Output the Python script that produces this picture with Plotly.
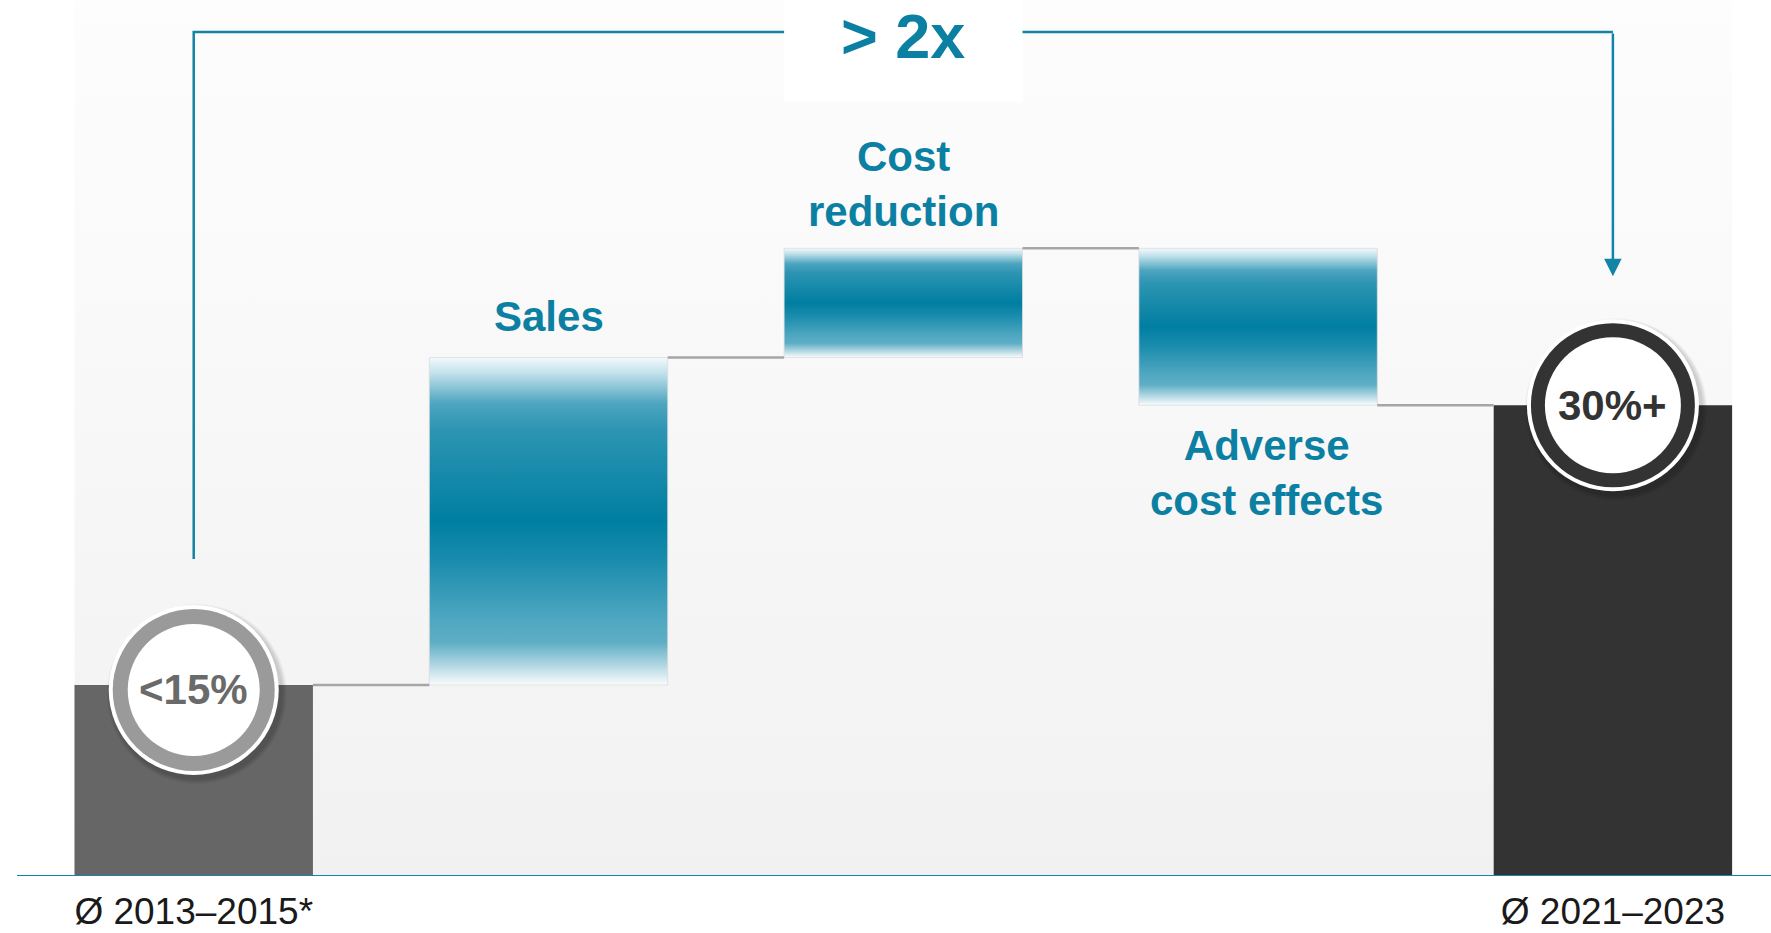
import plotly.graph_objects as go

# ---- data -------------------------------------------------------------
categories = ["Ø 2013–2015*", "Sales", "Cost reduction", "Adverse cost effects", "Ø 2021–2023"]
tick_labels = ["Ø 2013–2015*", "", "", "", "Ø 2021–2023"]
start_margin = 14.0          # shown as "<15%"
step_deltas = [24.0, 8.0, -11.5]   # Sales, Cost reduction, Adverse cost effects
end_margin = 34.5            # shown as "30%+"
circle_labels = ["<15%", "30%+"]
step_labels = ["Sales", "Cost<br>reduction", "Adverse<br>cost effects"]
headline = "> 2x"

# ---- geometry / style ---------------------------------------------------
W, H = 1771, 933
MARGIN_B = 57
PLOT_H = H - MARGIN_B
Y_MAX = 64.2
PX_PER_UNIT = PLOT_H / Y_MAX
X_RANGE = [-0.546, 4.4456]
BAR_W = 0.672

BLUE = "#0b80a2"
LINE_BLUE = "#1284a6"
CONNECTOR = "#a6a6a6"
START_GREY = "#666666"
END_GREY = "#333333"


def px(p):
    """pixel distance -> y-axis units"""
    return p / PX_PER_UNIT


def rect_xy(xc, y0, y1):
    x0, x1 = xc - BAR_W / 2, xc + BAR_W / 2
    return [x0, x1, x1, x0, x0], [y0, y0, y1, y1, y0]


# colour ramp of the step bars, listed from top edge to bottom edge
step_ramp_top_down = [
    (0.00, "#f2fafc"),
    (0.05, "#bfe0ea"),
    (0.14, "#4ea5c0"),
    (0.22, "#2d95b3"),
    (0.50, "#007ea1"),
    (0.62, "#1a8cad"),
    (0.80, "#4fa7c1"),
    (0.87, "#5eaec5"),
    (0.95, "#bddde7"),
    (1.00, "#f9fcfd"),
]
step_colorscale = [[round(1 - p, 4), c] for p, c in reversed(step_ramp_top_down)]

fig = go.Figure()

# light background panel spanning the five columns
panel_x = [0 - BAR_W / 2, 4 + BAR_W / 2, 4 + BAR_W / 2, 0 - BAR_W / 2, 0 - BAR_W / 2]
panel_y = [0, 0, Y_MAX, Y_MAX, 0]
fig.add_trace(go.Scatter(
    x=panel_x, y=panel_y, mode="lines", fill="toself", line=dict(width=0),
    fillgradient=dict(type="vertical", start=0, stop=Y_MAX,
                      colorscale=[[0, "#f1f1f1"], [0.55, "#f8f8f8"], [1, "#fdfdfd"]]),
    hoverinfo="skip", showlegend=False))

# starting and ending margin bars
for i, (val, col) in enumerate([(start_margin, START_GREY), (end_margin, END_GREY)]):
    xc = 0 if i == 0 else 4
    xs, ys = rect_xy(xc, 0, val)
    fig.add_trace(go.Scatter(x=xs, y=ys, mode="lines", fill="toself", fillcolor=col,
                             line=dict(width=0), hoverinfo="skip", showlegend=False))

# waterfall steps
levels = [start_margin]
for d in step_deltas:
    levels.append(levels[-1] + d)

for j, d in enumerate(step_deltas):
    xc = j + 1
    lo, hi = sorted([levels[j], levels[j + 1]])
    xs, ys = rect_xy(xc, lo, hi)
    fig.add_trace(go.Scatter(
        x=xs, y=ys, mode="lines", fill="toself",
        line=dict(width=1, color="rgba(220,220,220,0.8)"),
        fillgradient=dict(type="vertical", start=lo, stop=hi, colorscale=step_colorscale),
        hoverinfo="skip", showlegend=False))

# connectors between consecutive columns
all_levels = levels + [end_margin]
for i in range(4):
    fig.add_trace(go.Scatter(
        x=[i + BAR_W / 2, i + 1 - BAR_W / 2], y=[all_levels[i], all_levels[i]],
        mode="lines", line=dict(color=CONNECTOR, width=2.5),
        hoverinfo="skip", showlegend=False))

# bracket from start to end
bracket_y = Y_MAX - px(32)
left_foot = start_margin + px(126)
arrow_tip = end_margin + px(129)
fig.add_trace(go.Scatter(
    x=[0, 0, 4, 4], y=[left_foot, bracket_y, bracket_y, bracket_y],
    mode="lines", line=dict(color=LINE_BLUE, width=2.5),
    hoverinfo="skip", showlegend=False))

shapes = []
# white label box over the bracket
shapes.append(dict(type="rect", xref="x", yref="y", x0=2 - BAR_W / 2, x1=2 + BAR_W / 2,
                   y0=Y_MAX - px(102), y1=Y_MAX, fillcolor="white", line=dict(width=0),
                   layer="above"))
# base line
shapes.append(dict(type="line", xref="paper", yref="y", x0=17 / W, x1=1, y0=0, y1=0,
                   line=dict(color=LINE_BLUE, width=2), layer="above"))

# badges on the two margin bars
badges = [
    (0, start_margin, -5, "#9a9a9a", 85, 81, 66),
    (4, end_margin, 0, END_GREY, 86, 82, 68),
]
for xa, ya, dy, ring, r_out, r_ring, r_in in badges:
    for k in range(5):
        rr = r_out + 1 + k
        shapes.append(dict(type="circle", xref="x", yref="y", xsizemode="pixel", ysizemode="pixel",
                           xanchor=xa, yanchor=ya, x0=-rr + 3, x1=rr + 3,
                           y0=dy - rr - 4, y1=dy + rr - 4,
                           fillcolor="rgba(0,0,0,0.035)", line=dict(width=0), layer="above"))
    for rr, col in [(r_out, "white"), (r_ring, ring), (r_in, "white")]:
        shapes.append(dict(type="circle", xref="x", yref="y", xsizemode="pixel", ysizemode="pixel",
                           xanchor=xa, yanchor=ya, x0=-rr, x1=rr, y0=dy - rr, y1=dy + rr,
                           fillcolor=col, line=dict(width=0), layer="above"))

annotations = []
FONT = "Liberation Sans, Arial, sans-serif"
annotations.append(dict(x=0, y=start_margin, yshift=-5, text=f"<b>{circle_labels[0]}</b>",
                        showarrow=False, font=dict(family=FONT, size=42, color="#6a6a6a"),
                        xanchor="center", yanchor="middle"))
annotations.append(dict(x=4, y=end_margin, text=f"<b>{circle_labels[1]}</b>",
                        showarrow=False, font=dict(family=FONT, size=42, color=END_GREY),
                        xanchor="center", yanchor="middle"))

# step labels: above rising steps, below falling steps
label_shift = [(0, 41), (0, 64), (8, -68)]
for j, d in enumerate(step_deltas):
    lo, hi = sorted([levels[j], levels[j + 1]])
    anchor_y = hi if d > 0 else lo
    dx, dy = label_shift[j]
    annotations.append(dict(x=j + 1, y=anchor_y, xshift=dx, yshift=dy,
                            text=f"<b>{step_labels[j]}</b>", showarrow=False,
                            font=dict(family=FONT, size=42, color=BLUE),
                            xanchor="center", yanchor="middle"))

annotations.append(dict(x=2, y=bracket_y, yshift=-4, text=f"<b>{headline}</b>", showarrow=False,
                        font=dict(family=FONT, size=63, color=BLUE),
                        xanchor="center", yanchor="middle"))

# arrow down onto the ending badge
annotations.append(dict(x=4, y=arrow_tip, ax=4, ay=bracket_y, axref="x", ayref="y",
                        xref="x", yref="y", text="", showarrow=True, arrowhead=2,
                        arrowsize=1.4, arrowwidth=2.5, arrowcolor=LINE_BLUE, standoff=0))

fig.update_layout(
    width=W, height=H,
    margin=dict(l=0, r=0, t=0, b=MARGIN_B, pad=0, autoexpand=False),
    paper_bgcolor="white", plot_bgcolor="white",
    shapes=shapes, annotations=annotations,
    showlegend=False,
    xaxis=dict(range=X_RANGE, tickvals=list(range(5)), ticktext=tick_labels,
               showgrid=False, zeroline=False, showline=False, ticks="",
               ticklabelstandoff=10, automargin=False,
               tickfont=dict(family=FONT, size=37, color="#1a1a1a"), fixedrange=True),
    yaxis=dict(range=[0, Y_MAX], showgrid=False, zeroline=False, showline=False,
               showticklabels=False, ticks="", fixedrange=True, automargin=False),
)

fig.write_html("out.html", config={"displayModeBar": False})
